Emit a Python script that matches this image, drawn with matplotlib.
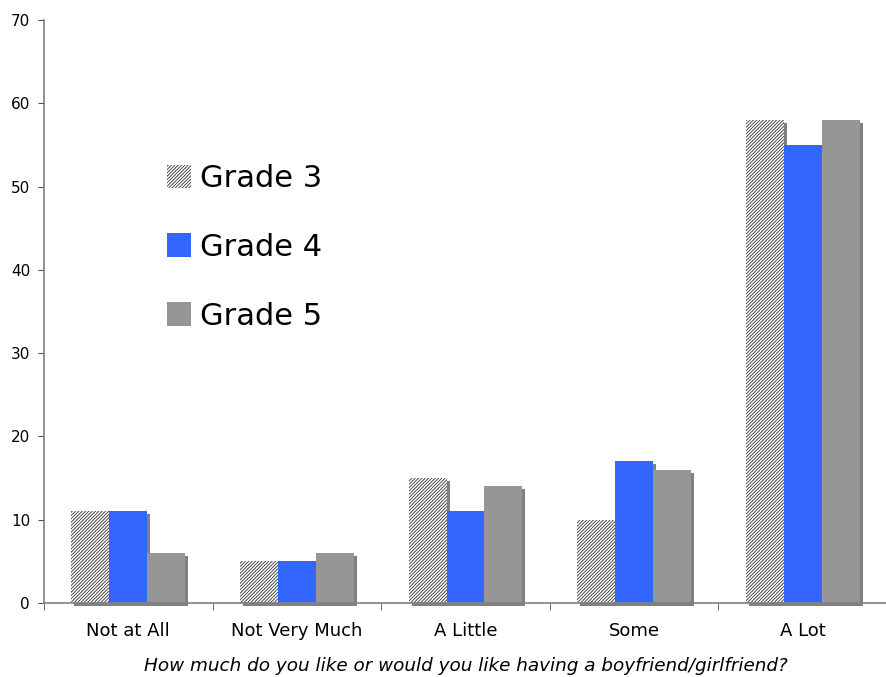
import matplotlib
matplotlib.use("Agg")
import matplotlib.pyplot as plt
from matplotlib.transforms import offset_copy
import numpy as np

categories = ["Not at All", "Not Very Much", "A Little", "Some", "A Lot"]
grade3 = [11, 5, 15, 10, 58]
grade4 = [11, 5, 11, 17, 55]
grade5 = [6, 6, 14, 16, 58]

plt.rcParams['font.family'] = ['DejaVu Sans']
plt.rcParams['hatch.linewidth'] = 0.6

fig = plt.figure(figsize=(8.87, 6.77), dpi=100)
ax = fig.add_axes([0.0496, 0.1093, 0.9504, 0.8612])

x = np.arange(len(categories))
w = 0.225
series = [(grade3, -w), (grade4, 0), (grade5, w)]

# drop shadows, 3px right and down
shadow_tr = offset_copy(ax.transData, fig=fig, x=3, y=-3, units='dots')
for vals, off in series:
    sb = ax.bar(x + off, vals, w, color='#808080', edgecolor='none', zorder=1)
    for p in sb:
        p.set_transform(shadow_tr)
        p.set_clip_on(False)

ax.bar(x - w, grade3, w, color='white', edgecolor='#333333', linewidth=0,
       hatch='//////////', label='Grade 3', zorder=2)
ax.bar(x, grade4, w, color='#3366ff', edgecolor='none', label='Grade 4', zorder=2)
ax.bar(x + w, grade5, w, color='#969696', edgecolor='none', label='Grade 5', zorder=2)

ax.set_xlim(-0.5, len(categories) - 0.5)
ax.set_ylim(0, 70)
ax.set_yticks(range(0, 71, 10))
ax.set_xticks(x)
ax.set_xticklabels(categories, fontsize=13)
ax.set_xticks(np.arange(-0.5, len(categories)), minor=True)
ax.tick_params(axis='x', which='major', length=0, pad=14)
ax.tick_params(axis='x', which='minor', length=5, color='#505050')
ax.tick_params(axis='y', length=4, color='#505050', labelsize=11, pad=6)

for s in ('top', 'right'):
    ax.spines[s].set_visible(False)
for s in ('left', 'bottom'):
    ax.spines[s].set_color('#808080')
    ax.spines[s].set_linewidth(1.2)
    ax.spines[s].set_zorder(3)

ax.set_xlabel("How much do you like or would you like having a boyfriend/girlfriend?",
              fontsize=13.2, style='italic', labelpad=12)

ax.legend(loc='upper left', bbox_to_anchor=(0.113, 0.8), frameon=False, fontsize=22,
          handlelength=0.8, handleheight=0.8, handletextpad=0.3, labelspacing=1.3)

fig.savefig("out.png", dpi=100)
